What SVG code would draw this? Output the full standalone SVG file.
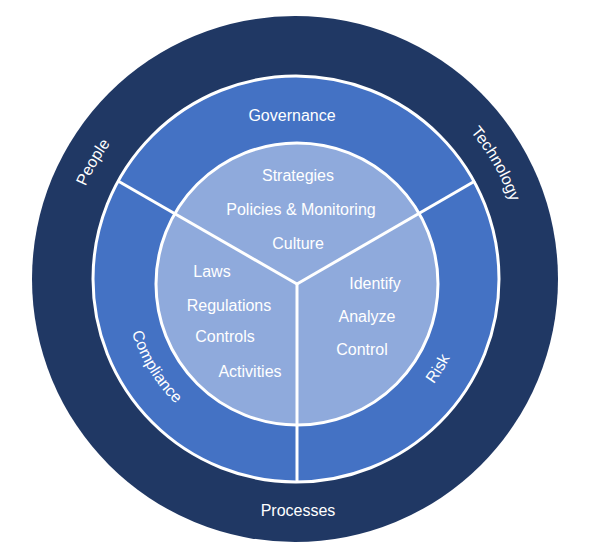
<svg xmlns="http://www.w3.org/2000/svg" xmlns:xlink="http://www.w3.org/1999/xlink" width="594" height="558" viewBox="0 0 594 558">
  <style>
    .lbl { font-family: "Liberation Sans", Arial, sans-serif; font-size: 16px; fill: #ffffff; text-anchor: middle; }
    .sep { stroke: #ffffff; stroke-width: 3; fill: none; }
  </style>
  <defs>
    <path id="arcOuter" d="M 66,279 A 229 229 0 0 1 524,279"/>
    <path id="arcMid" d="M 124,281 A 172 172 0 0 0 468,281"/>
  </defs>
  <rect width="594" height="558" fill="#ffffff"/>

  <g id="outer-ring">
    <circle cx="295" cy="279" r="263" fill="#203864"/>
    <text class="lbl"><textPath xlink:href="#arcOuter" href="#arcOuter" startOffset="16.7%">People</textPath></text>
    <text class="lbl"><textPath xlink:href="#arcOuter" href="#arcOuter" startOffset="83.4%">Technology</textPath></text>
    <text class="lbl" x="298" y="516">Processes</text>
  </g>

  <g id="middle-ring">
    <circle cx="296" cy="279" r="203" fill="#4472C4"/>
  </g>

  <g id="inner-circle">
    <circle cx="297" cy="284" r="141" fill="#8FAADC"/>
  </g>

  <g id="connectors">
    <circle cx="296" cy="279" r="203" class="sep"/>
    <circle cx="297" cy="284" r="141" class="sep"/>
    <line class="sep" x1="297" y1="284" x2="118" y2="181"/>
    <line class="sep" x1="297" y1="284" x2="475" y2="181"/>
    <line class="sep" x1="297" y1="284" x2="297" y2="482"/>
  </g>

  <g id="governance">
    <text class="lbl" x="292" y="121">Governance</text>
    <text class="lbl" x="298" y="181">Strategies</text>
    <text class="lbl" x="301" y="215">Policies &amp; Monitoring</text>
    <text class="lbl" x="298" y="249">Culture</text>
  </g>

  <g id="compliance">
    <text class="lbl"><textPath xlink:href="#arcMid" href="#arcMid" startOffset="17.5%">Compliance</textPath></text>
    <text class="lbl" x="212" y="277">Laws</text>
    <text class="lbl" x="229" y="311">Regulations</text>
    <text class="lbl" x="225" y="342">Controls</text>
    <text class="lbl" x="250" y="377">Activities</text>
  </g>

  <g id="risk">
    <text class="lbl"><textPath xlink:href="#arcMid" href="#arcMid" startOffset="82.4%">Risk</textPath></text>
    <text class="lbl" x="375" y="289">Identify</text>
    <text class="lbl" x="367" y="322">Analyze</text>
    <text class="lbl" x="362" y="355">Control</text>
  </g>
</svg>
